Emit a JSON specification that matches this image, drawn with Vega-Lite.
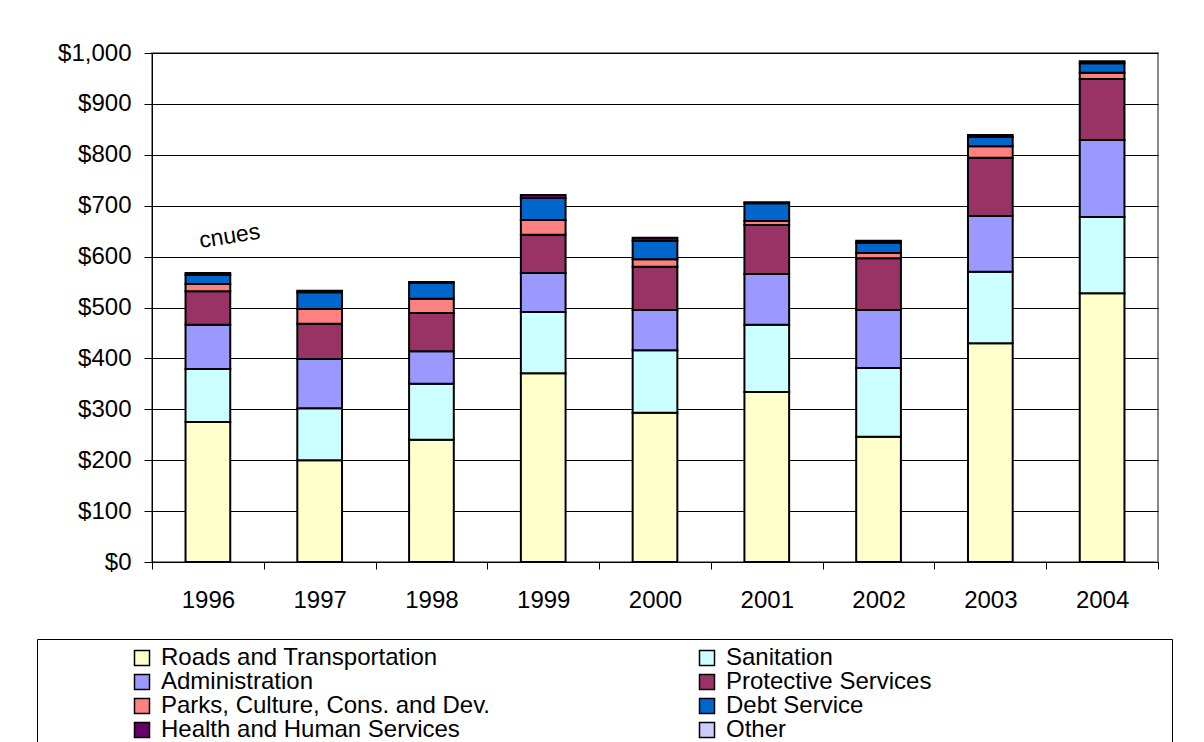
{
  "$schema": "https://vega.github.io/schema/vega-lite/v6.json",
  "width": 1006,
  "height": 509,
  "autosize": "none",
  "padding": {"left": 152, "top": 53, "right": 46, "bottom": 180},
  "background": "white",
  "config": {
    "font": "Liberation Sans",
    "view": {"stroke": "#888888", "strokeWidth": 2},
    "axis": {"labelFont": "Liberation Sans", "labelColor": "black", "domainColor": "black", "tickColor": "black", "title": null}
  },
  "layer": [
    {
      "data": {
        "values": [
          {"year": "1996", "category": "Roads and Transportation", "amount": 275},
          {"year": "1996", "category": "Sanitation", "amount": 104},
          {"year": "1996", "category": "Administration", "amount": 87},
          {"year": "1996", "category": "Protective Services", "amount": 66},
          {"year": "1996", "category": "Parks, Culture, Cons. and Dev.", "amount": 14},
          {"year": "1996", "category": "Debt Service", "amount": 18},
          {"year": "1996", "category": "Health and Human Services", "amount": 4},
          {"year": "1997", "category": "Roads and Transportation", "amount": 200},
          {"year": "1997", "category": "Sanitation", "amount": 102},
          {"year": "1997", "category": "Administration", "amount": 97},
          {"year": "1997", "category": "Protective Services", "amount": 69},
          {"year": "1997", "category": "Parks, Culture, Cons. and Dev.", "amount": 29},
          {"year": "1997", "category": "Debt Service", "amount": 33},
          {"year": "1997", "category": "Health and Human Services", "amount": 3},
          {"year": "1998", "category": "Roads and Transportation", "amount": 240},
          {"year": "1998", "category": "Sanitation", "amount": 110},
          {"year": "1998", "category": "Administration", "amount": 64},
          {"year": "1998", "category": "Protective Services", "amount": 75},
          {"year": "1998", "category": "Parks, Culture, Cons. and Dev.", "amount": 28},
          {"year": "1998", "category": "Debt Service", "amount": 31},
          {"year": "1998", "category": "Health and Human Services", "amount": 2},
          {"year": "1999", "category": "Roads and Transportation", "amount": 371},
          {"year": "1999", "category": "Sanitation", "amount": 120},
          {"year": "1999", "category": "Administration", "amount": 77},
          {"year": "1999", "category": "Protective Services", "amount": 75},
          {"year": "1999", "category": "Parks, Culture, Cons. and Dev.", "amount": 29},
          {"year": "1999", "category": "Debt Service", "amount": 43},
          {"year": "1999", "category": "Health and Human Services", "amount": 6},
          {"year": "2000", "category": "Roads and Transportation", "amount": 293},
          {"year": "2000", "category": "Sanitation", "amount": 123},
          {"year": "2000", "category": "Administration", "amount": 79},
          {"year": "2000", "category": "Protective Services", "amount": 85},
          {"year": "2000", "category": "Parks, Culture, Cons. and Dev.", "amount": 15},
          {"year": "2000", "category": "Debt Service", "amount": 36},
          {"year": "2000", "category": "Health and Human Services", "amount": 6},
          {"year": "2001", "category": "Roads and Transportation", "amount": 334},
          {"year": "2001", "category": "Sanitation", "amount": 132},
          {"year": "2001", "category": "Administration", "amount": 100},
          {"year": "2001", "category": "Protective Services", "amount": 96},
          {"year": "2001", "category": "Parks, Culture, Cons. and Dev.", "amount": 8},
          {"year": "2001", "category": "Debt Service", "amount": 35},
          {"year": "2001", "category": "Health and Human Services", "amount": 2},
          {"year": "2002", "category": "Roads and Transportation", "amount": 246},
          {"year": "2002", "category": "Sanitation", "amount": 135},
          {"year": "2002", "category": "Administration", "amount": 114},
          {"year": "2002", "category": "Protective Services", "amount": 102},
          {"year": "2002", "category": "Parks, Culture, Cons. and Dev.", "amount": 10},
          {"year": "2002", "category": "Debt Service", "amount": 20},
          {"year": "2002", "category": "Health and Human Services", "amount": 4},
          {"year": "2003", "category": "Roads and Transportation", "amount": 430},
          {"year": "2003", "category": "Sanitation", "amount": 140},
          {"year": "2003", "category": "Administration", "amount": 110},
          {"year": "2003", "category": "Protective Services", "amount": 114},
          {"year": "2003", "category": "Parks, Culture, Cons. and Dev.", "amount": 23},
          {"year": "2003", "category": "Debt Service", "amount": 18},
          {"year": "2003", "category": "Health and Human Services", "amount": 4},
          {"year": "2004", "category": "Roads and Transportation", "amount": 528},
          {"year": "2004", "category": "Sanitation", "amount": 150},
          {"year": "2004", "category": "Administration", "amount": 151},
          {"year": "2004", "category": "Protective Services", "amount": 120},
          {"year": "2004", "category": "Parks, Culture, Cons. and Dev.", "amount": 12},
          {"year": "2004", "category": "Debt Service", "amount": 19},
          {"year": "2004", "category": "Health and Human Services", "amount": 4}
        ]
      },
      "transform": [
        {"calculate": "indexof(['Roads and Transportation','Sanitation','Administration','Protective Services','Parks, Culture, Cons. and Dev.','Debt Service','Health and Human Services','Other'], datum.category)", "as": "ord"}
      ],
      "mark": {"type": "bar", "stroke": "black", "strokeWidth": 2, "width": {"band": 0.4}},
      "encoding": {
        "x": {
          "field": "year", "type": "ordinal",
          "scale": {"paddingInner": 0, "paddingOuter": 0},
          "axis": {"labelAngle": 0, "labelFontSize": 24, "tickBand": "extent", "tickSize": 7, "labelPadding": 19, "grid": false}
        },
        "y": {
          "field": "amount", "type": "quantitative", "aggregate": "sum",
          "scale": {"domain": [0, 1000], "nice": false},
          "axis": {"values": [0, 100, 200, 300, 400, 500, 600, 700, 800, 900, 1000], "format": "$,.0f", "labelFontSize": 24, "tickSize": 8, "labelPadding": 13, "grid": true, "gridColor": "black", "gridOpacity": 1, "gridWidth": 1}
        },
        "color": {
          "field": "category", "type": "nominal",
          "scale": {
            "domain": ["Roads and Transportation", "Sanitation", "Administration", "Protective Services", "Parks, Culture, Cons. and Dev.", "Debt Service", "Health and Human Services", "Other"],
            "range": ["#FFFFCC", "#CCFFFF", "#9999FF", "#993366", "#FF8080", "#0066CC", "#660066", "#CCCCFF"]
          },
          "legend": {
            "orient": "none", "legendX": -115, "legendY": 586, "direction": "horizontal",
            "columns": 2, "title": "\u00a0", "titleOrient": "left", "titlePadding": 86,
            "symbolType": "square", "symbolSize": 225, "symbolStrokeColor": "black", "symbolStrokeWidth": 1.5,
            "labelFontSize": 24, "labelFont": "Liberation Sans", "labelColor": "black", "labelLimit": 800,
            "labelOffset": 7, "rowPadding": 0, "columnPadding": 204,
            "labelExpr": "datum.label == 'Protective Services' ? datum.label + '\u00a0\u00a0\u00a0\u00a0\u00a0\u00a0\u00a0\u00a0\u00a0\u00a0\u00a0\u00a0\u00a0\u00a0\u00a0\u00a0\u00a0\u00a0\u00a0\u00a0\u00a0\u00a0\u00a0\u00a0\u00a0\u00a0\u00a0\u00a0\u00a0\u00a0\u00a0\u00a0\u00a0\u00a0\u00a0\u200b' : datum.label",
            "strokeColor": "black", "padding": 7
          }
        },
        "order": {"field": "ord", "type": "quantitative"}
      }
    },
    {
      "data": {"values": [{"year": "1996", "amount": 633, "note": "cnues"}]},
      "mark": {"type": "text", "angle": -9, "fontSize": 23, "dx": 22, "color": "black"},
      "encoding": {
        "x": {"field": "year", "type": "ordinal"},
        "y": {"field": "amount", "type": "quantitative"},
        "text": {"field": "note"}
      }
    }
  ]
}
